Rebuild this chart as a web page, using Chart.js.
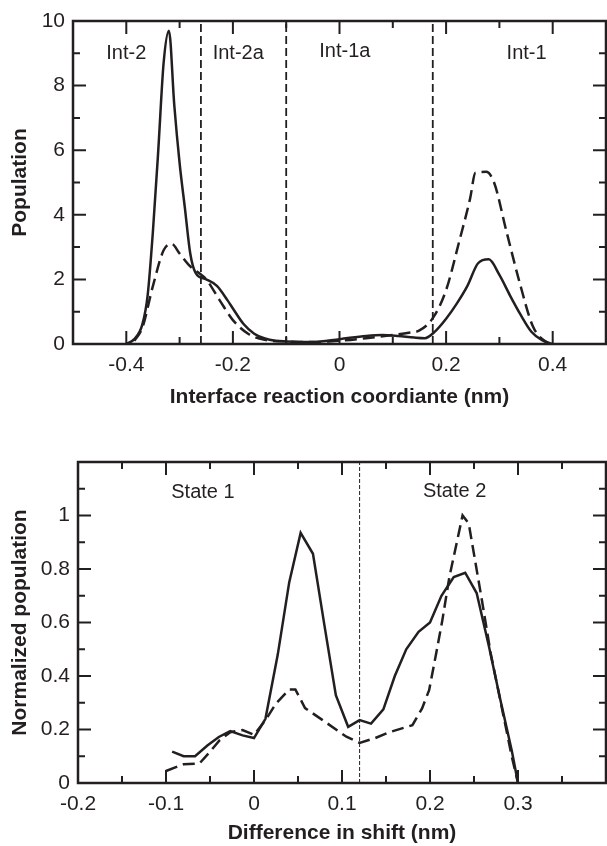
<!DOCTYPE html>
<html>
<head>
<meta charset="utf-8">
<script src="https://cdn.jsdelivr.net/npm/chart.js@4.4.1/dist/chart.umd.min.js"></script>
<style>
  body { margin: 0; background: #fff; }
  #wrap { position: relative; width: 607px; height: 846px; }
  canvas { position: absolute; left: 0; }
</style>
</head>
<body>
<div id="wrap">
  <canvas id="topChart" width="607" height="420" style="top:0"></canvas>
  <canvas id="bottomChart" width="607" height="426" style="top:420px"></canvas>
</div>
<script>
const ink = '#231f20';
Chart.defaults.font.family = '"Liberation Sans", Arial, sans-serif';
Chart.defaults.color = ink;

// top panel: population along the interface reaction coordinate
const coordSolidX = [-0.40, -0.385, -0.37, -0.36, -0.35, -0.34, -0.33, -0.32, -0.31, -0.30, -0.29, -0.28, -0.27, -0.25, -0.23, -0.21, -0.20, -0.18, -0.16, -0.14, -0.12, -0.10, -0.05, 0, 0.05, 0.08, 0.11, 0.14, 0.16, 0.18, 0.20, 0.22, 0.24, 0.26, 0.28, 0.30, 0.32, 0.34, 0.36, 0.38, 0.40];
const coordSolidY = [0, 0.15, 0.6, 1.5, 3.5, 6.0, 8.7, 9.7, 7.4, 5.6, 4.2, 2.8, 2.2, 2.0, 1.8, 1.35, 1.1, 0.62, 0.32, 0.17, 0.1, 0.08, 0.06, 0.15, 0.25, 0.28, 0.25, 0.2, 0.18, 0.4, 0.78, 1.25, 1.8, 2.5, 2.62, 2.14, 1.5, 0.9, 0.38, 0.12, 0];
const coordDashX = [-0.385, -0.37, -0.35, -0.33, -0.315, -0.30, -0.28, -0.26, -0.25, -0.225, -0.20, -0.17, -0.14, -0.10, -0.05, 0, 0.05, 0.10, 0.13, 0.15, 0.175, 0.20, 0.225, 0.245, 0.255, 0.275, 0.29, 0.313, 0.338, 0.363, 0.388, 0.40];
const coordDashY = [0.1, 0.5, 1.8, 2.9, 3.1, 2.8, 2.4, 2.15, 2.0, 1.36, 0.74, 0.3, 0.13, 0.08, 0.06, 0.1, 0.18, 0.28, 0.35, 0.42, 0.8, 1.67, 3.2, 4.5, 5.3, 5.33, 5.0, 3.5, 1.9, 0.54, 0.06, 0];
const coordBounds = [-0.26, -0.1, 0.175];
const coordRegions = ['Int-2', 'Int-2a', 'Int-1a', 'Int-1'];
const coordXTicks = [-0.4, -0.2, 0, 0.2, 0.4];
const coordXMinor = [-0.3, -0.1, 0.1, 0.3];
const coordYTicks = [0, 2, 4, 6, 8, 10];
const coordYMinor = [1, 3, 5, 7, 9];

// bottom panel: normalized population vs difference in shift
const shiftSolidX = [-0.093, -0.08, -0.067, -0.053, -0.04, -0.027, -0.013, 0, 0.013, 0.027, 0.04, 0.053, 0.067, 0.08, 0.093, 0.107, 0.12, 0.133, 0.147, 0.16, 0.173, 0.187, 0.2, 0.213, 0.227, 0.24, 0.253, 0.267, 0.28, 0.293, 0.3];
const shiftSolidY = [0.117, 0.10, 0.10, 0.14, 0.172, 0.194, 0.178, 0.168, 0.24, 0.48, 0.75, 0.935, 0.857, 0.59, 0.328, 0.21, 0.235, 0.222, 0.275, 0.40, 0.50, 0.565, 0.60, 0.70, 0.77, 0.786, 0.71, 0.51, 0.31, 0.12, 0.0];
const shiftDashX = [-0.1, -0.08, -0.062, -0.05, -0.039, -0.027, -0.013, 0, 0.013, 0.025, 0.04, 0.047, 0.058, 0.078, 0.105, 0.12, 0.137, 0.154, 0.18, 0.191, 0.199, 0.207, 0.214, 0.222, 0.237, 0.244, 0.259, 0.269, 0.293, 0.3];
const shiftDashY = [0.045, 0.07, 0.073, 0.117, 0.16, 0.19, 0.198, 0.18, 0.235, 0.297, 0.35, 0.35, 0.28, 0.235, 0.173, 0.15, 0.167, 0.19, 0.216, 0.279, 0.347, 0.484, 0.608, 0.77, 1.0, 0.97, 0.683, 0.484, 0.098, 0.0];
const shiftBound = 0.12;
const shiftStates = ['State 1', 'State 2'];
const shiftXTicks = [-0.2, -0.1, 0, 0.1, 0.2, 0.3];
const shiftXMinor = [-0.15, -0.05, 0.05, 0.15, 0.25, 0.35];
const shiftYTicks = [0, 0.2, 0.4, 0.6, 0.8, 1];
const shiftYMinor = [0.1, 0.3, 0.5, 0.7, 0.9, 1.1];

const pts = (xs, ys) => xs.map((x, i) => ({x: x, y: ys[i]}));
const fmt = v => String(+Number(v).toFixed(2));

// box round the plot with inward ticks, plus the region names
const frame = {
  id: 'frame',
  afterDatasetsDraw(chart, args, o) {
    const {ctx, chartArea: a} = chart;
    const sx = chart.scales.x, sy = chart.scales.y;
    ctx.save();
    ctx.strokeStyle = ink;
    ctx.setLineDash([]);
    ctx.lineWidth = 2.5;
    ctx.strokeRect(a.left, a.top, a.right - a.left, a.bottom - a.top);
    ctx.lineWidth = 2;
    ctx.beginPath();
    const xt = (vals, len) => vals.forEach(v => {
      const p = sx.getPixelForValue(v);
      ctx.moveTo(p, a.bottom); ctx.lineTo(p, a.bottom - len);
      ctx.moveTo(p, a.top); ctx.lineTo(p, a.top + len);
    });
    const yt = (vals, len) => vals.forEach(v => {
      const p = sy.getPixelForValue(v);
      ctx.moveTo(a.left, p); ctx.lineTo(a.left + len, p);
      ctx.moveTo(a.right, p); ctx.lineTo(a.right - len, p);
    });
    xt(o.xMajor, 13); xt(o.xMinor, 7);
    yt(o.yMajor, 13); yt(o.yMinor, 7);
    ctx.stroke();
    ctx.font = '20px "Liberation Sans", Arial, sans-serif';
    ctx.fillStyle = ink;
    ctx.textAlign = 'center';
    ctx.textBaseline = 'middle';
    o.notes.forEach(n => ctx.fillText(n.text, sx.getPixelForValue(n.x), sy.getPixelForValue(n.y)));
    ctx.restore();
  }
};

function makeScales(xr, yr, xTicks, yTicks, yWidth, xHeight, xTitle, yTitle, xPadBottom) {
  return {
    x: {
      type: 'linear', min: xr[0], max: xr[1],
      grid: {display: false}, border: {display: false},
      afterBuildTicks: s => { s.ticks = xTicks.map(v => ({value: v})); },
      afterFit: s => { s.height = xHeight; },
      ticks: {padding: 1, font: {size: 21}, color: ink, callback: fmt},
      title: {display: true, text: xTitle, color: ink, font: {size: 21, weight: 'bold'}, padding: {top: 0, bottom: xPadBottom}}
    },
    y: {
      type: 'linear', min: yr[0], max: yr[1],
      grid: {display: false}, border: {display: false},
      afterBuildTicks: s => { s.ticks = yTicks.map(v => ({value: v})); },
      afterFit: s => { s.width = yWidth; },
      ticks: {padding: 0, font: {size: 21}, color: ink, callback: fmt},
      title: {display: true, text: yTitle, color: ink, font: {size: 21, weight: 'bold'}, padding: {top: 8, bottom: 0}}
    }
  };
}

const solidLine = (data, smooth) => ({
  data: data, showLine: true, pointRadius: 0, borderColor: ink, borderWidth: 2.5,
  tension: smooth ? 0.4 : 0, cubicInterpolationMode: smooth ? 'monotone' : 'default'
});
const dashLine = (data, smooth) => Object.assign(solidLine(data, smooth), {borderDash: [12, 6]});
const vline = (x, y0, y1, dash, w) => ({
  data: [{x: x, y: y0}, {x: x, y: y1}], showLine: true, pointRadius: 0,
  borderColor: ink, borderWidth: w, borderDash: dash
});

new Chart(document.getElementById('topChart'), {
  type: 'scatter',
  data: {
    datasets: [
      ...coordBounds.map(b => vline(b, 0, 10, [8, 4], 1.8)),
      solidLine(pts(coordSolidX, coordSolidY), true),
      dashLine(pts(coordDashX, coordDashY), true)
    ]
  },
  options: {
    responsive: false,
    animation: false,
    layout: {padding: {top: 21, right: 1, left: 0, bottom: 0}},
    scales: makeScales([-0.5, 0.5], [0, 10], coordXTicks, coordYTicks, 73, 76,
      'Interface reaction coordiante (nm)', 'Population', 10),
    plugins: {
      legend: {display: false},
      tooltip: {enabled: false},
      frame: {
        xMajor: coordXTicks, xMinor: coordXMinor, yMajor: coordYTicks, yMinor: coordYMinor,
        notes: [
          {text: coordRegions[0], x: -0.40, y: 8.98},
          {text: coordRegions[1], x: -0.19, y: 8.98},
          {text: coordRegions[2], x: 0.01, y: 9.05},
          {text: coordRegions[3], x: 0.351, y: 8.98}
        ]
      }
    }
  },
  plugins: [frame]
});

new Chart(document.getElementById('bottomChart'), {
  type: 'scatter',
  data: {
    datasets: [
      vline(shiftBound, 0, 1.2, [4, 2], 1),
      solidLine(pts(shiftSolidX, shiftSolidY), false),
      dashLine(pts(shiftDashX, shiftDashY), false)
    ]
  },
  options: {
    responsive: false,
    animation: false,
    layout: {padding: {top: 42, right: 1, left: 0, bottom: 0}},
    scales: makeScales([-0.2, 0.4], [0, 1.2], shiftXTicks, shiftYTicks, 78, 63,
      'Difference in shift (nm)', 'Normalized population', 0),
    plugins: {
      legend: {display: false},
      tooltip: {enabled: false},
      frame: {
        xMajor: shiftXTicks, xMinor: shiftXMinor, yMajor: shiftYTicks, yMinor: shiftYMinor,
        notes: [
          {text: shiftStates[0], x: -0.058, y: 1.087},
          {text: shiftStates[1], x: 0.228, y: 1.09}
        ]
      }
    }
  },
  plugins: [frame]
});
</script>
</body>
</html>
